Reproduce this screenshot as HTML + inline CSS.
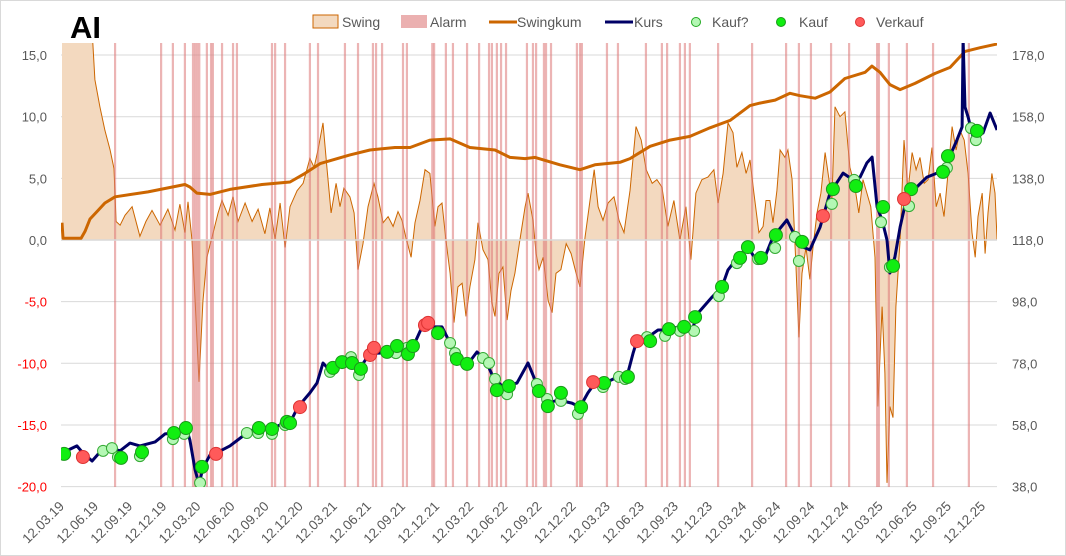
<!DOCTYPE html>
<html><head><meta charset="utf-8">
<style>
html,body{margin:0;padding:0;background:#fff;}
#wrap{position:relative;width:1066px;height:556px;overflow:hidden;font-family:"Liberation Sans",sans-serif;}
svg{position:absolute;left:0;top:0;}
</style></head>
<body>
<div id="wrap">
<svg id="chart" width="1066" height="556" viewBox="0 0 1066 556">
  <rect x="0.5" y="0.5" width="1065" height="555" fill="#fff" stroke="#d9d9d9"/>
  <text x="70" y="38" font-size="31" font-weight="bold" fill="#000">AI</text>
  <g id="legend" font-size="14" fill="#595959">
    <g>
      <rect x="313" y="15" width="25" height="13" fill="#f3d9bf" stroke="#cc6600" stroke-width="1"/>
      <text x="342" y="27">Swing</text></g>
    <g>
      <rect x="401" y="15" width="26" height="13" fill="#ebb0b0"/>
      <text x="430" y="27">Alarm</text></g>
    <g>
      <line x1="489" y1="22" x2="517" y2="22" stroke="#cc6600" stroke-width="3"/>
      <text x="517" y="27">Swingkum</text></g>
    <g>
      <line x1="605" y1="22" x2="633" y2="22" stroke="#000066" stroke-width="3"/>
      <text x="634" y="27">Kurs</text></g>
    <g>
      <circle cx="696" cy="22" r="4.5" fill="#b4f7b4" stroke="#22aa22"/>
      <text x="712" y="27">Kauf?</text></g>
    <g>
      <circle cx="781" cy="22" r="4.5" fill="#11ee11" stroke="#1a9a1a"/>
      <text x="799" y="27">Kauf</text></g>
    <g>
      <circle cx="860" cy="22" r="4.5" fill="#ff5a5a" stroke="#dd3333"/>
      <text x="876" y="27">Verkauf</text></g>
  </g>
  <defs><clipPath id="plotclip"><rect x="61" y="43" width="936" height="444"/></clipPath></defs>
  <g id="grid"></g>
  <g id="plot" clip-path="url(#plotclip)"></g>
  <g id="axes"></g>
</svg>
</div>
<script>
// ---- data (x = weeks since 12.03.19) ----
const leftTicks = [-20,-15,-10,-5,0,5,10,15];
const leftTickLabels = ["-20,0","-15,0","-10,0","-5,0","0,0","5,0","10,0","15,0"];
const rightTicks = [38,58,78,98,118,138,158,178];
const rightTickLabels = ["38,0","58,0","78,0","98,0","118,0","138,0","158,0","178,0"];
const dateLabels = ["12.03.19","12.06.19","12.09.19","12.12.19","12.03.20","12.06.20","12.09.20","12.12.20","12.03.21","12.06.21","12.09.21","12.12.21","12.03.22","12.06.22","12.09.22","12.12.22","12.03.23","12.06.23","12.09.23","12.12.23","12.03.24","12.06.24","12.09.24","12.12.24","12.03.25","12.06.25","12.09.25","12.12.25"];

const kursWeeks = [0,5.7,8,11.5,14.5,18.4,22.2,26,29.8,35.6,39.4,43.2,47.4,48.9,50.9,52.4,53.9,56.6,59.7,64.2,70.7,75,80.3,85.3,88.3,90.2,94.8,97.5,99.8,103.3,107.5,110.9,114,117.8,121.6,125.4,130.4,134.2,138,140.7,145.3,148.4,151.1,154.9,158.7,162.5,164.8,168.6,174,178.2,182,185.9,189.7,195,198.1,201.1,203.8,207.6,212.6,216.4,218.4,220.3,224.1,227.9,231.7,235.6,240.9,243.2,248.6,252.4,254.7,258.5,262.3,266.2,268.8,271.9,277.2,281.1,283.4,286,289.9,293.7,298.7,302.5,305.2,307.8,309.8,311.7,313.6,315.5,316.6,318.5,320.5,323.1,326.9,330.8,334.6,338.4,342.2,344.2,344.6,345.3,346.5,348.4,352.2,354.9,357.6];
const kursValues = [48.9,51.2,48.9,46.3,49.2,50.5,49.6,52.1,51.2,52.5,55.1,55.4,57.3,53.1,43.4,38.8,44,48.3,49.2,51.2,55.4,57.3,57,58.6,60.6,63.8,68.4,71.6,78.1,74.9,78.4,78.4,76.5,81.3,81.3,82.3,82.3,83.3,90.4,89.8,89.8,84.6,79.1,77.4,81.7,78.1,73.6,70.3,71.6,78.1,70.3,65.1,66.1,65.1,63.8,68.4,71.6,71.6,73.6,74.9,81.3,86.5,86.5,88.8,88.8,89.8,88.8,94.3,99.5,102.8,108.3,112.5,115.7,110.5,112.5,119,124.5,118,115.7,114.8,122.2,133.2,139.7,137.5,138.4,143,144.9,128.7,124.5,118,107.3,112.5,122.2,132,135.2,138.4,139.7,143,150.4,154.7,183,161.1,157.9,151.4,152.7,159.2,153.7];

const swingWeeks = [0,11.5,12.6,14.5,16.4,18.4,19.9,20.7,22.2,24.1,26.8,29.8,32.1,34.4,37.5,40.5,43.2,45.1,47,48.2,49.7,50.9,52.4,53.9,55.4,57.7,59.7,61.2,63.5,65.4,67.3,70,72.7,75,77.6,79.5,81.5,83.4,85.3,87.2,89.9,92.2,94.8,96.4,97.9,99.8,101.3,102.9,104.8,106.3,107.8,110.1,111.7,113.2,115.1,117,119.3,120.8,122.8,124.7,126.6,128.5,130,131.5,133.5,135,136.9,138.8,140.7,142.6,143.8,145.3,146.8,148.4,149.9,151.4,153,154.5,156,157.9,159.1,161,162.9,164.4,165.6,167.1,168.6,170.2,171.7,173.2,175.1,177.1,178.2,180.1,181.3,182.4,184,185.9,187.4,188.9,190.8,192.8,194.7,196.6,198.1,200,201.9,203.5,205,206.9,208.8,211.1,213,214.9,217.2,219.5,221.5,223.4,225.7,227.5,229.4,231.7,234,236.3,238.6,240.5,242.4,244.7,247,249.3,250.9,252.8,254.7,256.6,258.1,260,261.6,263.1,264.6,266.5,268.1,269.2,270.7,271.9,273.4,274.6,276.5,277.6,279.2,280.7,281.8,283,284.5,286,287.2,288.7,290.2,291.8,293.3,294.4,295.6,297.5,299.4,301.3,303.2,304.7,306.3,307.8,309.3,310.9,312,313.6,314.7,315.5,316.6,317.8,318.9,320.5,322,323.5,325.1,326.6,328.1,329.7,331.2,332.7,334.3,335.8,337.3,338.8,340.4,341.9,343.4,345,346.5,348,349.2,350.3,351.9,353,354.1,355.6,356.8,357.6];
const swingValues = [25,17,13,10.8,8.9,7.3,5.8,1.5,1.2,2,2.7,0.3,1.5,2.4,1.2,2.5,0.8,2.9,0.6,3.1,0,-4.9,-11.5,-5,-1.4,0.5,2.2,3.2,2,3.5,1.5,3,1.5,2.5,0.5,2.6,0.1,3,-0.6,2.7,4,4.6,6.6,5.9,7.3,9.5,5.9,2.2,4.6,2.7,4.2,3.5,2.2,-2.4,-0.3,2.7,4.6,3.5,1.4,1.9,1.1,2.3,1.6,0.2,-1.4,1.4,3.2,5.7,5.4,1.1,2.7,3,0,-2.7,-6.7,-3.8,-3.5,-6.2,-3.8,-1.6,1.4,-0.8,-1.6,-5.1,-6.2,-2.7,-2.2,-6.5,-4.1,-2.7,0,2.7,3.8,1.6,-1.1,-2.4,-1.4,-4.9,-5.9,-2.7,-2.4,-0.3,-1.1,-2.7,-3.8,0.2,3.2,5.7,2.7,1.6,3,3.5,1.6,0.6,4,9.2,8.1,5.7,4.6,4.9,4.3,1.1,3.2,0,2.7,-1.6,3.8,4.9,5.1,5.7,3,5.4,9.5,8.7,5.9,7.1,5.4,6.5,3.8,0.6,1.1,3.2,3.2,1.4,4,7.3,6.7,7.3,4.9,-2.2,-7.9,-2.7,-0.6,-3.2,-0.6,2.2,3.8,7.1,4.9,3.2,10.8,10,10.4,5.9,4.3,2.2,4.9,3.8,2.7,-1.4,-13.5,-5.4,-10.8,-19.7,-13.5,-14.4,-5.4,0,8.1,4,7.1,5.7,6.7,4.6,4.9,7.5,2.7,3.8,1.9,5.4,9.2,7.3,8.9,8.1,5.4,0.6,-1.4,1.9,3.8,-1.1,2.2,5.4,3.8,0];

const swingkumWeeks = [0,0.4,7.3,8.8,10.7,13.8,16.4,20.3,32.9,47,48.9,51.6,56.6,64.2,76.5,87.2,92.9,98.7,110.1,117.8,127.3,133.1,140.7,148.4,156,165.6,171.3,177.1,180.9,190.4,198.1,203.8,213.4,217.2,224.9,232.5,240.1,247.8,255.5,263.1,266.9,272.7,278.4,282.2,288,293.7,299.4,307.1,309.7,312.8,316.6,320.5,326.2,333.8,339.6,345.3,351.1,357.6];
const swingkumValues = [1.4,0.15,0.15,0.7,1.7,2.4,3,3.5,3.9,4.5,4.3,3.8,3.7,4.1,4.5,4.7,5.4,6.2,6.9,7.3,7.5,7.5,8.1,8.2,7.5,7.3,6.7,6.6,6.7,6.1,5.7,6.1,6.3,6.6,7.6,8.1,8.4,9.1,9.7,10.9,11.1,11.35,11.9,11.7,11.5,12,13.1,13.6,14.1,13.6,12.6,12.2,12.7,13.5,14,15.3,15.6,15.9];

const alarmWeeks = [20.3,37.9,42.4,47,50.1,50.9,51.7,52.5,55.4,57,57.7,61.2,65.4,66.9,80.3,81.5,85.3,94.8,97.9,108.2,113.2,118.9,120.1,122.4,130.4,131.9,141.6,142.3,146.8,149.5,154.9,159.5,163.3,164.4,166.3,167.9,169.8,177.8,180.1,181.3,184.3,185.1,187,196.9,198.1,198.8,208.4,212.6,223.3,229.4,231.4,236.3,238.2,240.1,250.9,263.9,276.9,281.8,286.4,294.1,301,311.7,312.4,316.2,323.1,333.1,346.8];

const kaufFragWeeks = [15.7,19.1,21.4,29.8,42.4,46.7,52.8,70.7,75,80.3,85.3,102.5,110.5,113.6,127.7,131.9,148.4,150.3,161,163.3,165.6,170.2,181.6,185.5,190.8,197.3,206.9,213,215.3,223.7,230.6,236.3,241.7,251.2,258.1,266.2,272.7,280.3,281.8,294.4,302.9,313.2,316.6,323.9,338.4,347.6,349.5];
const kaufFragValues = [49.6,50.5,47.6,47.9,53.4,55.1,39.2,55.4,55.4,55.1,58,75.2,80,74.2,81.3,83,84.6,81.3,79.7,78.1,72.9,68,71.3,66.4,65.8,61.6,70.3,73.6,72.9,86.5,86.9,88.5,88.5,99.8,110.5,111.8,115.4,119,111.2,129.7,137.5,123.8,109.2,129,141.4,154.3,150.4];

const kaufWeeks = [0.8,22.6,30.6,42.8,47.4,53.5,75.3,80.3,86,87.2,103.6,107.1,110.9,114.3,124.3,128.1,132.3,134.2,143.8,151,154.9,166.3,170.9,182.4,185.8,190.8,198.5,207.3,216.4,224.9,232.1,237.9,242.1,252.4,259.3,262.3,267.3,273,283,294.8,303.6,314,317.8,324.7,336.9,338.8,349.9];
const kaufValues = [48.6,47.3,49.2,55.4,57,44.4,57,56.7,59,58.6,76.5,78.4,78.1,76.2,81.7,83.6,81,83.6,87.8,79.4,77.8,69.3,70.6,69,64.1,68.4,63.8,71.6,73.6,85.2,89.1,89.8,93,102.8,112.2,115.7,112.2,119.6,117.4,134.5,135.5,128.7,109.6,134.5,140.1,145.2,153.4];

const verkaufWeeks = [8,58.9,91,117.8,119.3,138.8,140,203.1,219.9,291,322];
const verkaufValues = [47.6,48.6,63.8,80.7,83,90.4,91.1,71.9,85.2,125.8,131.3];

// ---- scales ----
const PX_LEFT = 61, PX_RIGHT = 997, PX_TOP = 43, PX_BOTTOM = 487;
function xScale(w){ return 62 + w * 2.615; }
function yLeft(v){ return 240 - v * 12.33; }
function yRight(p){ return 240 - (p - 118) * 3.0825; }

const NS = "http://www.w3.org/2000/svg";
function mk(tag, attrs){ const e = document.createElementNS(NS, tag); for (const k in attrs) e.setAttribute(k, attrs[k]); return e; }
const grid = document.getElementById('grid');
const plot = document.getElementById('plot');
const axes = document.getElementById('axes');

leftTicks.forEach((t, i) => {
  const y = yLeft(t);
  const gl = mk('line', {x1: PX_LEFT, x2: PX_RIGHT, y1: y, y2: y, stroke: '#d9d9d9', 'stroke-width': 1});
  
  
  grid.appendChild(gl);
  const tx = mk('text', {x: 47, y: y + 5, 'text-anchor': 'end', 'font-size': 13, fill: t < 0 ? '#ff0000' : '#595959'});
  tx.textContent = leftTickLabels[i];
  
  
  axes.appendChild(tx);
});
rightTicks.forEach((t, i) => {
  const tx = mk('text', {x: 1012, y: yRight(t) + 5, 'font-size': 13, fill: '#595959'});
  tx.textContent = rightTickLabels[i];
  
  
  axes.appendChild(tx);
});
dateLabels.forEach((d, q) => {
  const x = xScale(q * 365.25 / 4 / 7) + 3;
  const tx = mk('text', {x: x, y: 507, 'text-anchor': 'end', 'font-size': 13.5, fill: '#595959', transform: `rotate(-45 ${x} 507)`});
  tx.textContent = d;
  
  
  axes.appendChild(tx);
});

let pts = swingWeeks.map((w, i) => xScale(w).toFixed(1) + ',' + yLeft(swingValues[i]).toFixed(1));
const area = mk('path', {d: 'M' + xScale(swingWeeks[0]) + ',' + yLeft(0) + ' L' + pts.join(' L') + ' L' + xScale(swingWeeks[swingWeeks.length - 1]) + ',' + yLeft(0) + ' Z', fill: '#f3d9bf', stroke: 'none'});


plot.appendChild(area);
const sline = mk('polyline', {points: pts.join(' '), fill: 'none', stroke: '#cc6600', 'stroke-width': 1});


plot.appendChild(sline);

alarmWeeks.forEach(w => {
  const r = mk('rect', {x: xScale(w) - 1.1, y: PX_TOP, width: 2.2, height: PX_BOTTOM - PX_TOP, fill: '#dd7777', 'fill-opacity': 0.55});
  
  
  plot.appendChild(r);
});

const zl = mk('line', {x1: PX_LEFT, x2: PX_RIGHT, y1: yLeft(0), y2: yLeft(0), stroke: '#d9d9d9', 'stroke-width': 1.5});


plot.appendChild(zl);

const skPts = swingkumWeeks.map((w, i) => xScale(w).toFixed(1) + ',' + yLeft(swingkumValues[i]).toFixed(1)).join(' ');
const sk = mk('polyline', {points: skPts, fill: 'none', stroke: '#cc6600', 'stroke-width': 3, 'stroke-linejoin': 'round'});


plot.appendChild(sk);

const kPts = kursWeeks.map((w, i) => xScale(w).toFixed(1) + ',' + yRight(kursValues[i]).toFixed(1)).join(' ');
const kl = mk('polyline', {points: kPts, fill: 'none', stroke: '#000066', 'stroke-width': 3, 'stroke-linejoin': 'round'});


plot.appendChild(kl);

kaufFragWeeks.forEach((w, i) => {
  const c = mk('circle', {cx: xScale(w), cy: yRight(kaufFragValues[i]), r: 5.5, fill: '#b4f7b4', stroke: '#33aa33', 'stroke-width': 1});
  
  
  plot.appendChild(c);
});
kaufWeeks.forEach((w, i) => {
  const c = mk('circle', {cx: xScale(w), cy: yRight(kaufValues[i]), r: 6.5, fill: '#11ee11', stroke: '#1a9a1a', 'stroke-width': 1});
  
  
  plot.appendChild(c);
});
verkaufWeeks.forEach((w, i) => {
  const c = mk('circle', {cx: xScale(w), cy: yRight(verkaufValues[i]), r: 6.5, fill: '#ff5a5a', stroke: '#dd3333', 'stroke-width': 1});
  
  
  plot.appendChild(c);
});
</script>
</body></html>
